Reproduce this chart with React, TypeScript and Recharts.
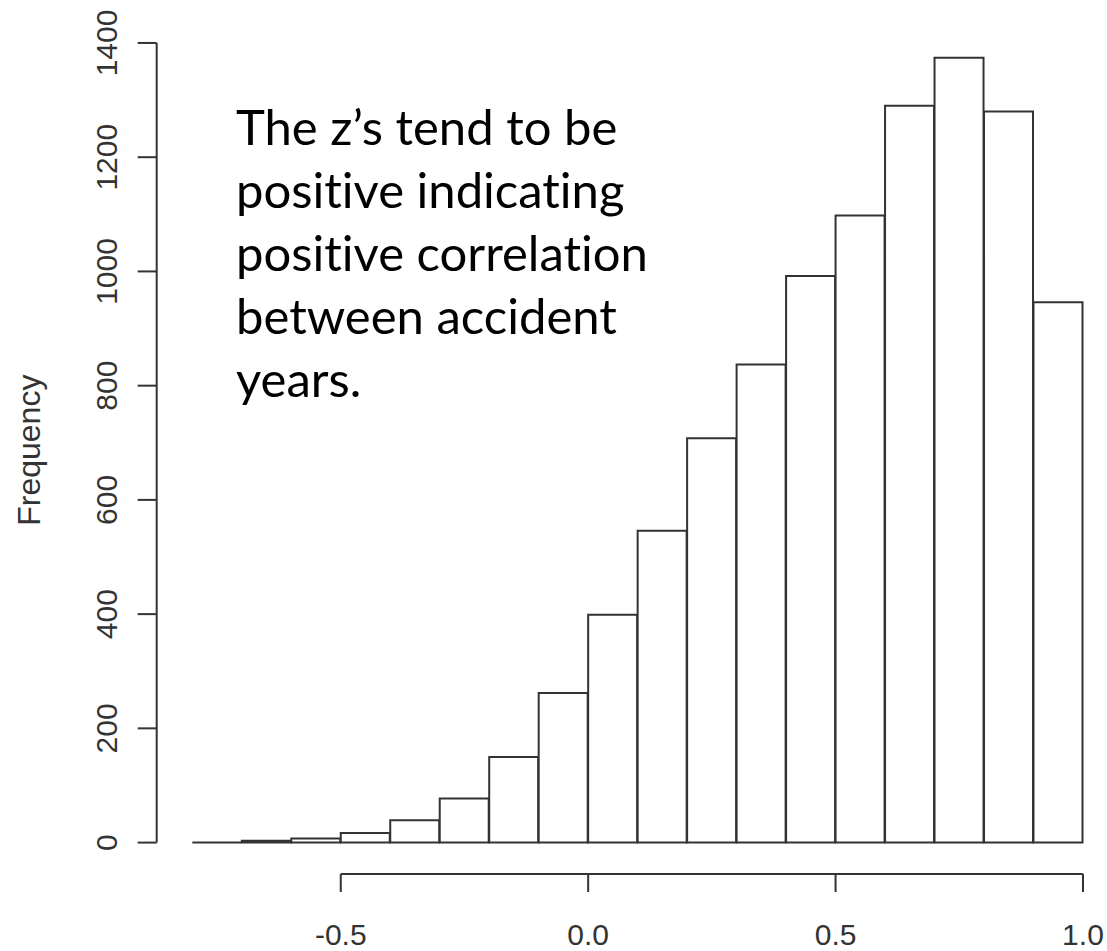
import React from "react";
import { ComposedChart, Bar, XAxis, YAxis, ReferenceLine } from "recharts";

// histogram of z: bins of width 0.1 from -0.8 to 1.0
const binStarts = [-0.8, -0.7, -0.6, -0.5, -0.4, -0.3, -0.2, -0.1, 0.0, 0.1, 0.2, 0.3, 0.4, 0.5, 0.6, 0.7, 0.8, 0.9];
const counts = [0, 3, 7, 17, 39, 77, 150, 262, 399, 546, 708, 837, 992, 1098, 1290, 1374, 1280, 946];
const xTicks = [-0.5, 0.0, 0.5, 1.0];
const yTicks = [0, 200, 400, 600, 800, 1000, 1200, 1400];
const noteLines = ["The z\u2019s tend to be", "positive indicating", "positive correlation", "between accident", "years."];

const BIN = 0.1;
// R-style 4% axis expansion
const X_DOMAIN: [number, number] = [-0.872, 1.072];
const Y_DOMAIN: [number, number] = [-55, 1429];

const data = binStarts.map((lo, i) => ({
  mid: Math.round((lo + BIN / 2) * 100) / 100,
  count: counts[i],
}));

const INK = "#333";
const AXIS_FONT = "'Liberation Sans', Arial, sans-serif";

// outline-only bar, drawn as a path so empty bins still show as a line
const HistRect = (props: any) => {
  const { x, y, width, height } = props;
  const h = Math.max(height || 0, 0);
  const top = h > 0 ? y : y + (height || 0);
  const bottom = top + h;
  return (
    <path
      d={`M${x},${bottom} L${x},${top} L${x + width},${top} L${x + width},${bottom} Z`}
      fill="#fff"
      stroke={INK}
      strokeWidth={2}
    />
  );
};

const YTick = (props: any) => {
  const { x, y, payload } = props;
  return (
    <text
      x={x}
      y={y}
      transform={`rotate(-90, ${x}, ${y})`}
      textAnchor="middle"
      fontFamily={AXIS_FONT}
      fontSize={30}
      fill={INK}
    >
      {payload.value}
    </text>
  );
};

const YLabel = (props: any) => {
  const vb = props.viewBox || {};
  const cy = (vb.y ?? 26) + (vb.height ?? 848) / 2;
  return (
    <text
      x={40}
      y={cy}
      transform={`rotate(-90, 40, ${cy})`}
      textAnchor="middle"
      fontFamily={AXIS_FONT}
      fontSize={32}
      fill={INK}
    >
      Frequency
    </text>
  );
};

export default function App() {
  return (
    <div style={{ position: "absolute", left: 0, top: 0, width: 1107, height: 951, background: "#fff", overflow: "hidden" }}>
      <ComposedChart
        width={1107}
        height={951}
        data={data}
        margin={{ top: 26.4, right: -11.6, bottom: 0, left: 0 }}
        barCategoryGap={0}
        barGap={0}
      >
        <XAxis
          dataKey="mid"
          type="number"
          domain={X_DOMAIN}
          allowDataOverflow
          ticks={xTicks}
          tickFormatter={(v: number) => v.toFixed(1)}
          axisLine={false}
          tickSize={18}
          tickMargin={32}
          tickLine={{ stroke: INK, strokeWidth: 2 }}
          tick={{ fontFamily: AXIS_FONT, fontSize: 30, fill: INK }}
          height={77}
        />
        <YAxis
          type="number"
          domain={Y_DOMAIN}
          allowDataOverflow
          ticks={yTicks}
          axisLine={false}
          tickSize={19}
          tickMargin={21}
          tickLine={{ stroke: INK, strokeWidth: 2 }}
          tick={<YTick />}
          width={156.7}
          label={<YLabel />}
        />
        <ReferenceLine
          segment={[{ x: xTicks[0], y: Y_DOMAIN[0] }, { x: xTicks[xTicks.length - 1], y: Y_DOMAIN[0] }]}
          stroke={INK}
          strokeWidth={2}
          ifOverflow="visible"
        />
        <ReferenceLine
          segment={[{ x: X_DOMAIN[0], y: yTicks[0] }, { x: X_DOMAIN[0], y: yTicks[yTicks.length - 1] }]}
          stroke={INK}
          strokeWidth={2}
          ifOverflow="visible"
        />
        <Bar dataKey="count" shape={<HistRect />} isAnimationActive={false} />
      </ComposedChart>
      <div
        style={{
          position: "absolute",
          left: 236,
          top: 95,
          fontFamily: "Lato, 'Open Sans', sans-serif",
          fontSize: 49,
          lineHeight: "63px",
          fontVariantLigatures: "none",
          color: "#000",
          whiteSpace: "pre",
        }}
      >
        {noteLines.map((line) => (
          <div key={line}>{line}</div>
        ))}
      </div>
    </div>
  );
}
